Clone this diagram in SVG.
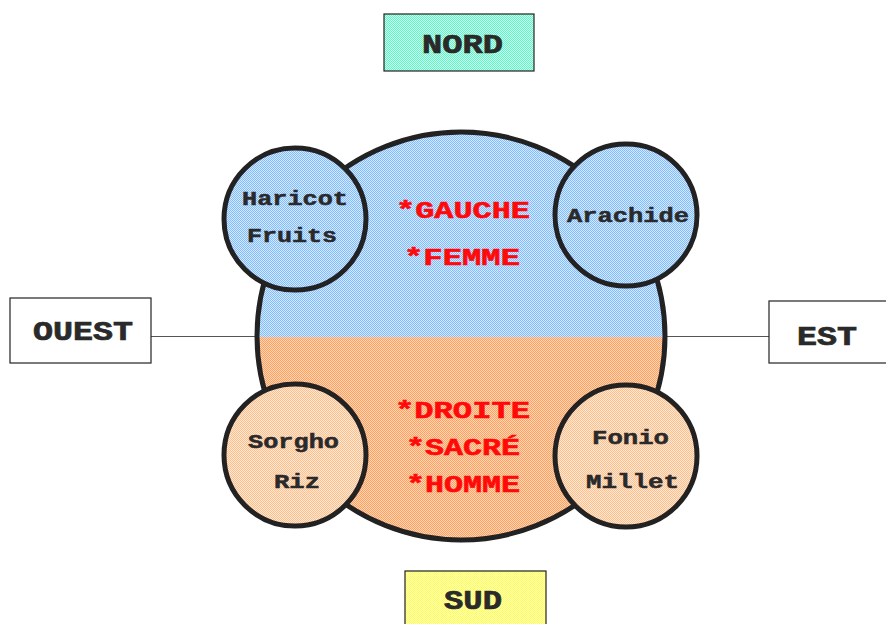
<svg xmlns="http://www.w3.org/2000/svg" width="886" height="624" viewBox="0 0 886 624">
  <defs>
    <pattern id="pBlue" width="2" height="2" patternUnits="userSpaceOnUse">
      <rect width="2" height="2" fill="#d6eaff"/>
      <rect width="1" height="1" fill="#80bcff"/>
      <rect x="1" y="1" width="1" height="1" fill="#80bcff"/>
    </pattern>
    <pattern id="pOrange" width="2" height="2" patternUnits="userSpaceOnUse">
      <rect width="2" height="2" fill="#ffd6b6"/>
      <rect width="1" height="1" fill="#ffa060"/>
      <rect x="1" y="1" width="1" height="1" fill="#ffa060"/>
    </pattern>
    <pattern id="pPeach" width="2" height="2" patternUnits="userSpaceOnUse">
      <rect width="2" height="2" fill="#ffe8d4"/>
      <rect width="1" height="1" fill="#ffbf8c"/>
      <rect x="1" y="1" width="1" height="1" fill="#ffbf8c"/>
    </pattern>
    <pattern id="pAqua" width="2" height="2" patternUnits="userSpaceOnUse">
      <rect width="2" height="2" fill="#cafff0"/>
      <rect width="1" height="1" fill="#62f5c6"/>
      <rect x="1" y="1" width="1" height="1" fill="#62f5c6"/>
    </pattern>
    <pattern id="pYellow" width="2" height="2" patternUnits="userSpaceOnUse">
      <rect width="2" height="2" fill="#ffffc2"/>
      <rect width="1" height="1" fill="#ffff50"/>
      <rect x="1" y="1" width="1" height="1" fill="#ffff50"/>
    </pattern>
  </defs>
  <style>
    .box { stroke: #222; stroke-width: 1.2; }
    .ring { stroke: #222; stroke-width: 5; }
    .lbl { font-family: "Liberation Mono", "Courier New", monospace; font-weight: bold; fill: #2a2a2a; stroke: #2a2a2a; stroke-width: 0.5; }
    .dir { font-size: 27px; stroke-width: 0.7; }
    .crop { font-size: 20px; }
    .trait { font-family: "Liberation Mono", "Courier New", monospace; font-weight: bold; fill: #ff0a0a; stroke: #ff0a0a; stroke-width: 0.6; font-size: 24px; }
    .conn { stroke: #555; stroke-width: 1; fill: none; }
  </style>

  <!-- connectors -->
  <g id="connectors">
    <line class="conn" x1="151" y1="336.5" x2="258" y2="336.5"/>
    <line class="conn" x1="664" y1="336.5" x2="769" y2="336.5"/>
  </g>

  <!-- cardinal boxes -->
  <g id="nord">
    <rect class="box" x="384" y="14" width="150" height="57" fill="url(#pAqua)"/>
    <text class="lbl dir" x="422" y="53" textLength="81" lengthAdjust="spacingAndGlyphs">NORD</text>
  </g>
  <g id="ouest">
    <rect class="box" x="10" y="298" width="141" height="65" fill="#fff"/>
    <text class="lbl dir" x="33" y="340" textLength="100" lengthAdjust="spacingAndGlyphs">OUEST</text>
  </g>
  <g id="est">
    <rect class="box" x="769" y="301" width="130" height="62" fill="#fff"/>
    <text class="lbl dir" x="797" y="345" textLength="60" lengthAdjust="spacingAndGlyphs">EST</text>
  </g>
  <g id="sud">
    <rect class="box" x="405" y="571" width="141" height="60" fill="url(#pYellow)"/>
    <text class="lbl dir" x="444" y="609" textLength="58" lengthAdjust="spacingAndGlyphs">SUD</text>
  </g>

  <!-- central circle: upper half blue, lower half orange -->
  <g id="centre">
    <path d="M256,337 A205,205 0 0 1 666,337 Z" fill="url(#pBlue)"/>
    <path d="M256,337 A205,205 0 0 0 666,337 Z" fill="url(#pOrange)"/>
    <circle class="ring" cx="461" cy="336" r="204" fill="none"/>
    <text class="trait" x="396" y="218" textLength="134" lengthAdjust="spacingAndGlyphs">*GAUCHE</text>
    <text class="trait" x="404" y="265" textLength="116" lengthAdjust="spacingAndGlyphs">*FEMME</text>
    <text class="trait" x="395" y="418" textLength="135" lengthAdjust="spacingAndGlyphs">*DROITE</text>
    <text class="trait" x="406" y="455" textLength="114" lengthAdjust="spacingAndGlyphs">*SACRÉ</text>
    <text class="trait" x="406" y="492" textLength="114" lengthAdjust="spacingAndGlyphs">*HOMME</text>
  </g>

  <!-- crop circles -->
  <g id="haricot">
    <circle class="ring" cx="295" cy="219" r="71" fill="url(#pBlue)"/>
    <text class="lbl crop" x="242" y="205" textLength="106" lengthAdjust="spacingAndGlyphs">Haricot</text>
    <text class="lbl crop" x="247" y="242" textLength="90" lengthAdjust="spacingAndGlyphs">Fruits</text>
  </g>
  <g id="arachide">
    <circle class="ring" cx="626" cy="215" r="71" fill="url(#pBlue)"/>
    <text class="lbl crop" x="567" y="222" textLength="122" lengthAdjust="spacingAndGlyphs">Arachide</text>
  </g>
  <g id="sorgho">
    <circle class="ring" cx="295" cy="455" r="71" fill="url(#pPeach)"/>
    <text class="lbl crop" x="248" y="448" textLength="91" lengthAdjust="spacingAndGlyphs">Sorgho</text>
    <text class="lbl crop" x="274" y="488" textLength="46" lengthAdjust="spacingAndGlyphs">Riz</text>
  </g>
  <g id="fonio">
    <circle class="ring" cx="626" cy="456" r="71" fill="url(#pPeach)"/>
    <text class="lbl crop" x="592" y="444" textLength="77" lengthAdjust="spacingAndGlyphs">Fonio</text>
    <text class="lbl crop" x="586" y="488" textLength="93" lengthAdjust="spacingAndGlyphs">Millet</text>
  </g>
</svg>
